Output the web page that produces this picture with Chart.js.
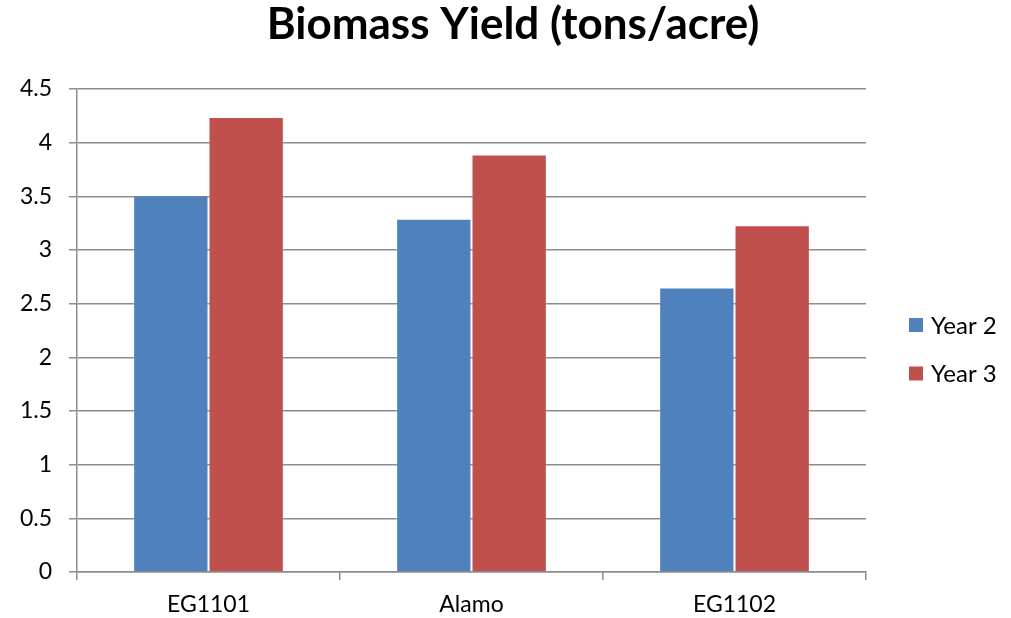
<!DOCTYPE html>
<html>
<head>
<meta charset="utf-8">
<script src="https://cdn.jsdelivr.net/npm/chart.js@4.4.1/dist/chart.umd.min.js"></script>
<style>
  html, body { margin: 0; padding: 0; background: #ffffff; }
  #wrap { width: 1011px; height: 618px; }
</style>
</head>
<body>
<div id="wrap"><canvas id="c" width="1011" height="618"></canvas></div>
<script>
// Chart content
const chartTitle = 'Biomass Yield (tons/acre)';
const varieties = ['EG1101', 'Alamo', 'EG1102'];
const seriesNames = ['Year 2', 'Year 3'];
const year2 = [3.51, 3.29, 2.65];
const year3 = [4.24, 3.89, 3.23];
const yTickValues = [0, 0.5, 1, 1.5, 2, 2.5, 3, 3.5, 4, 4.5];
const yTickLabels = ['0', '0.5', '1', '1.5', '2', '2.5', '3', '3.5', '4', '4.5'];

const FONT = 'Lato, "Open Sans", sans-serif';
const GRID = '#8c8c8c';
const colors = ['#4f81bd', '#c0504d'];

// Title and legend drawn beside the plot
const decorations = {
  id: 'decorations',
  afterDraw(chart) {
    const ctx = chart.ctx;
    ctx.save();
    ctx.fillStyle = '#000000';
    ctx.font = 'bold 44px ' + FONT;
    ctx.textAlign = 'center';
    ctx.textBaseline = 'alphabetic';
    ctx.fillText(chartTitle, 513, 39);

    ctx.font = '24px ' + FONT;
    ctx.textAlign = 'left';
    ctx.textBaseline = 'middle';
    chart.data.datasets.forEach((ds, i) => {
      const y = 318 + i * 48.5;
      ctx.fillStyle = ds.backgroundColor;
      ctx.fillRect(909, y, 14, 14);
      ctx.fillStyle = '#000000';
      ctx.fillText(ds.label, 931, y + 8);
    });
    ctx.restore();
  }
};

new Chart(document.getElementById('c'), {
  type: 'bar',
  data: {
    labels: varieties,
    datasets: [
      { label: seriesNames[0], data: year2, backgroundColor: colors[0], borderColor: 'rgba(255,255,255,0.2)', borderWidth: 1 },
      { label: seriesNames[1], data: year3, backgroundColor: colors[1], borderColor: 'rgba(255,255,255,0.2)', borderWidth: 1 }
    ]
  },
  options: {
    responsive: false,
    animation: false,
    devicePixelRatio: 1,
    layout: { padding: { top: 89, right: 145, left: 0, bottom: 0 } },
    datasets: { bar: { categoryPercentage: 0.573, barPercentage: 1 } },
    plugins: {
      legend: { display: false },
      title: { display: false },
      tooltip: { enabled: false }
    },
    scales: {
      x: {
        grid: { offset: true, drawOnChartArea: false, drawTicks: true, tickLength: 8, color: GRID, lineWidth: 1.5 },
        border: { color: GRID, width: 1.5 },
        ticks: { color: '#000000', font: { family: FONT, size: 23 }, padding: 11 },
        afterFit(scale) { scale.height = 46; }
      },
      y: {
        min: 0,
        max: 4.5,
        afterBuildTicks(scale) { scale.ticks = yTickValues.map(v => ({ value: v })); },
        grid: { color: GRID, lineWidth: 1.5, tickLength: 8 },
        border: { color: GRID, width: 1.5 },
        ticks: {
          color: '#000000',
          font: { family: FONT, size: 23 },
          padding: 17,
          callback: (v, i) => yTickLabels[i]
        },
        afterFit(scale) { scale.width = 77; }
      }
    }
  },
  plugins: [decorations]
});
</script>
</body>
</html>
